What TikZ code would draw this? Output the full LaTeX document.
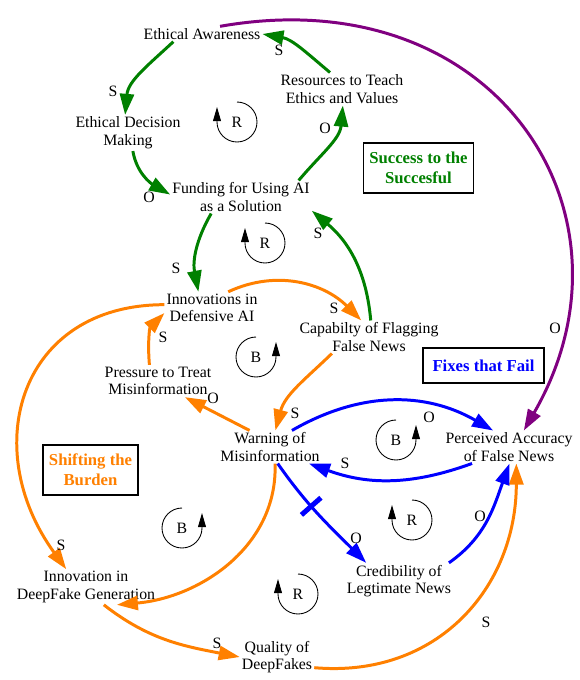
\documentclass[tikz,border=0pt]{standalone}
\usepackage{fontspec}
\setmainfont{Liberation Serif}
\usetikzlibrary{arrows.meta}
\definecolor{loopgreen}{RGB}{0,128,0}
\definecolor{looporange}{RGB}{255,128,0}
\definecolor{loopblue}{RGB}{0,0,255}
\definecolor{looppurple}{RGB}{128,0,128}
\tikzset{
	var/.style={align=center, inner sep=1pt, font=\fontsize{9}{10}\selectfont},
	sign/.style={inner sep=0pt, font=\fontsize{9}{10}\selectfont},
	link/.style={line width=1.7pt, -{Triangle[length=12pt,width=8pt]}},
	archetype/.style={draw, line width=0.6pt, align=center, font=\fontsize{9.5}{11.3}\selectfont\bfseries},
	loopline/.style={line width=0.5pt, -{Triangle[length=8pt,width=4.5pt]}},
	looptag/.style={inner sep=0pt, font=\fontsize{9}{10}\selectfont},
	delaymark/.style={fill=loopblue, inner sep=0pt, minimum width=0.1cm, minimum height=0.52cm}
}
\begin{document}
\begin{tikzpicture}[x=0.02cm, y=0.02cm]
	\useasboundingbox (0,0) rectangle (579,-680);

	% Define variables
	\node[var] (Aware) at (202,-34) {Ethical Awareness};
	\node[var] (Resources) at (342,-89) {Resources to Teach\\Ethics and Values};
	\node[var] (Decision) at (128,-133) {Ethical Decision\\Making};
	\node[var] (Funding) at (241,-197) {Funding for Using AI\\as a Solution};
	\node[var] (DefAI) at (212,-308) {Innovations in\\Defensive AI};
	\node[var] (Flagging) at (369,-337) {Capabilty of Flagging\\False News};
	\node[var] (Pressure) at (158,-381) {Pressure to Treat\\Misinformation};
	\node[var] (Warning) at (270,-447) {Warning of\\Misinformation};
	\node[var] (Accuracy) at (509,-447) {Perceived Accuracy\\of False News};
	\node[var] (DFGen) at (86,-587) {Innovation in\\DeepFake Generation};
	\node[var] (Credibility) at (399,-581) {Credibility of\\Legtimate News};
	\node[var] (Quality) at (277,-657) {Quality of\\DeepFakes};

	% Define archetype boxes
	\node[archetype, text=loopgreen, minimum width=2.18cm, minimum height=1cm] (Success) at (418.5,-168) {Success to the\\Succesful};
	\node[archetype, text=loopblue, minimum width=2.42cm, minimum height=0.7cm] (Fixes) at (483.5,-365.5) {Fixes that Fail};
	\node[archetype, text=looporange, minimum width=1.9cm, minimum height=1cm] (Burden) at (90.5,-470) {Shifting the\\Burden};

	% Define loop markers
	\node[looptag] (LoopR1) at (237,-122) {R};
	\draw[loopline] ([shift={(90:0.4cm)}]LoopR1.center) arc[start angle=90, end angle=-180, radius=0.4cm] -- ++(0,15);
	\node[looptag] (LoopR2) at (265,-243) {R};
	\draw[loopline] ([shift={(90:0.4cm)}]LoopR2.center) arc[start angle=90, end angle=-180, radius=0.4cm] -- ++(0,15);
	\node[looptag] (LoopB1) at (256,-357) {B};
	\draw[loopline] ([shift={(90:0.4cm)}]LoopB1.center) arc[start angle=90, end angle=360, radius=0.4cm] -- ++(0,15);
	\node[looptag] (LoopB2) at (396,-440) {B};
	\draw[loopline] ([shift={(90:0.4cm)}]LoopB2.center) arc[start angle=90, end angle=360, radius=0.4cm] -- ++(0,15);
	\node[looptag] (LoopR3) at (412,-520) {R};
	\draw[loopline] ([shift={(90:0.4cm)}]LoopR3.center) arc[start angle=90, end angle=-180, radius=0.4cm] -- ++(0,15);
	\node[looptag] (LoopB3) at (182,-528) {B};
	\draw[loopline] ([shift={(90:0.4cm)}]LoopB3.center) arc[start angle=90, end angle=360, radius=0.4cm] -- ++(0,15);
	\node[looptag] (LoopR4) at (298,-594) {R};
	\draw[loopline] ([shift={(90:0.4cm)}]LoopR4.center) arc[start angle=90, end angle=-180, radius=0.4cm] -- ++(0,15);

	% Define green links
	\draw[link, loopgreen] (Resources.126) to[out=140, in=-10] (Aware.east);
	\draw[link, loopgreen] (Aware.195) to[out=223, in=85] (Decision.99);
	\draw[link, loopgreen] (Decision.-75) to[out=-80, in=150] (Funding.178);
	\draw[link, loopgreen] (Funding.16) to[out=50, in=-95] (Resources.-87);
	\draw[link, loopgreen] (Funding.209) to[out=240, in=101] (DefAI.130);
	\draw[link, loopgreen] (Flagging.84) to[out=95, in=-40] (Funding.-11);

	% Define orange links
	\draw[link, looporange] (DefAI.45) to[out=25, in=135] (Flagging.115);
	\draw[link, looporange] (Flagging.204) to[out=224, in=75] (Warning.72);
	\draw[link, looporange] (Warning.141) -- (Pressure.-31);
	\draw[link, looporange] (Pressure.118) to[out=95, in=-135] (DefAI.186);
	\draw[link, looporange] (DefAI.176) .. controls +(180:145) and +(126:150) .. (DFGen.138);
	\draw[link, looporange] (Warning.-73) to[out=-88, in=5] (DFGen.-30);
	\draw[link, looporange] (DFGen.-45) to[out=-38, in=169] (Quality.west);
	\draw[link, looporange] (Quality.-16) to[out=-5, in=-90, looseness=1.1] (Accuracy.-66);

	% Define blue links
	\draw[link, loopblue] (Warning.37) to[out=30, in=150] (Accuracy.134);
	\draw[link, loopblue] (Accuracy.204) to[out=-160, in=-20] (Warning.-23);
	\draw[link, loopblue] (Warning.-65) to[out=-55, in=135] node[pos=0.4, sloped, delaymark] (Delay) {} (Credibility.151);
	\draw[link, loopblue] (Credibility.20) to[out=35, in=-110] (Accuracy.-88);

	% Define purple link
	\draw[link, looppurple] (Aware.23) .. controls +(10:280) and +(60:250) .. (Accuracy.48);

	% Define polarities
	\node[sign] (SignResAware) at (279,-50) {S};
	\node[sign] (SignAwareDec) at (113,-91) {S};
	\node[sign] (SignDecFund) at (149,-197) {O};
	\node[sign] (SignFundRes) at (325,-128) {O};
	\node[sign] (SignFundDef) at (176,-268) {S};
	\node[sign] (SignFlagFund) at (318,-233) {S};
	\node[sign] (SignDefFlag) at (334,-308) {S};
	\node[sign] (SignFlagWarn) at (295,-413) {S};
	\node[sign] (SignWarnPres) at (213,-398) {O};
	\node[sign] (SignPresDef) at (163,-337) {S};
	\node[sign] (SignDefGen) at (61,-545) {S};
	\node[sign] (SignGenQual) at (217,-643) {S};
	\node[sign] (SignQualAcc) at (486,-622) {S};
	\node[sign] (SignWarnAcc) at (429,-417) {O};
	\node[sign] (SignAccWarn) at (345,-463) {S};
	\node[sign] (SignWarnCred) at (356,-538) {O};
	\node[sign] (SignCredAcc) at (480,-516) {O};
	\node[sign] (SignAwareAcc) at (555,-328) {O};
\end{tikzpicture}
\end{document}
